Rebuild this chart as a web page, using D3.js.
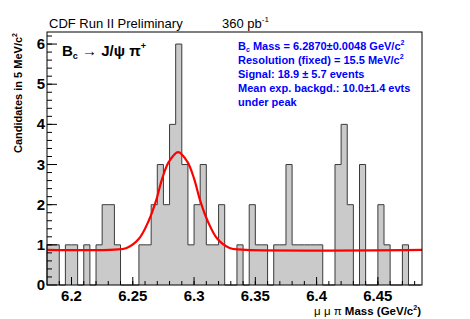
<!DOCTYPE html>
<html>
<head>
<meta charset="utf-8">
<script src="https://cdn.jsdelivr.net/npm/d3@7"></script>
<style>
  body { margin: 0; background: #fff; }
  text { font-family: "Liberation Sans", Helvetica, Arial, sans-serif; }
</style>
</head>
<body>
<div id="chart"></div>
<script>
// histogram: 5 MeV bins starting at 6.18 GeV
var binLow0 = 6.18, binWidth = 0.005;
var counts = [1,1,0,1,1,0,1,0,1,2, 2,1,0,0,0,1,1,2,3,2,
              4,6,3,1,2,3,1,1,2,0, 0,1,0,2,1,1,0,1,1,3,
              1,1,1,1,1,0,0,3,4,2, 0,3,0,0,2,1,0,0,1,0, 0];

// fit curve, points
var fitMass  = [6.18, 6.235, 6.245, 6.255, 6.263, 6.269, 6.274, 6.2795, 6.287,
                6.2945, 6.300, 6.305, 6.311, 6.319, 6.329, 6.339, 6.486];
var fitValue = [0.875, 0.88, 0.92, 1.15, 1.6, 2.1, 2.65, 3.07, 3.31,
                3.07, 2.65, 2.1, 1.6, 1.15, 0.92, 0.88, 0.875];

var xTicks = [6.2, 6.25, 6.3, 6.35, 6.4, 6.45];
var yTicks = [0, 1, 2, 3, 4, 5, 6];

var fitLines = ["Mass = 6.2870\u00b10.0048 GeV/c", "Resolution (fixed) = 15.5 MeV/c",
                "Signal: 18.9 \u00b1 5.7 events", "Mean exp. backgd.: 10.0\u00b11.4 evts", "under peak"];

var W = 470, H = 319;
var frame = {left: 47, right: 422, top: 32, bottom: 285};

var svg = d3.select("#chart").append("svg")
    .attr("width", W).attr("height", H);

var x = d3.scaleLinear().domain([6.18, 6.486]).range([frame.left, frame.right]);
var y = d3.scaleLinear().domain([0, 6.3]).range([frame.bottom, frame.top]);

// histogram step path
var pts = [[binLow0, 0]];
counts.forEach(function(c, i) {
  var lo = binLow0 + i * binWidth;
  pts.push([lo, c]);
  pts.push([lo + binWidth, c]);
});
pts.push([binLow0 + counts.length * binWidth, 0]);
var line = d3.line()
    .x(function(d) { return x(Math.min(d[0], 6.486)); })
    .y(function(d) { return y(d[1]); });

svg.append("path")
    .attr("d", line(pts))
    .attr("fill", "#cacaca")
    .attr("stroke", "#3a3a3a")
    .attr("stroke-width", 1);

// fit
svg.append("path")
    .datum(d3.zip(fitMass, fitValue))
    .attr("d", d3.line().x(function(d) { return x(d[0]); }).y(function(d) { return y(d[1]); })
          .curve(d3.curveCatmullRom))
    .attr("fill", "none")
    .attr("stroke", "#ff0000")
    .attr("stroke-width", 2.2);

// frame
svg.append("rect")
    .attr("x", frame.left).attr("y", frame.top)
    .attr("width", frame.right - frame.left).attr("height", frame.bottom - frame.top)
    .attr("fill", "none").attr("stroke", "#000").attr("stroke-width", 1);

// x ticks (inward)
var xMinor = d3.range(6.19, 6.486, 0.01);
var g = svg.append("g").attr("stroke", "#000").attr("stroke-width", 1);
xMinor.forEach(function(v) {
  g.append("line").attr("x1", x(v)).attr("x2", x(v))
    .attr("y1", frame.bottom).attr("y2", frame.bottom - 4);
});
xTicks.forEach(function(v) {
  g.append("line").attr("x1", x(v)).attr("x2", x(v))
    .attr("y1", frame.bottom).attr("y2", frame.bottom - 8);
});
var yMinor = d3.range(0.2, 6.3, 0.2);
yMinor.forEach(function(v) {
  g.append("line").attr("x1", frame.left).attr("x2", frame.left + 5)
    .attr("y1", y(v)).attr("y2", y(v));
});
yTicks.forEach(function(v) {
  g.append("line").attr("x1", frame.left).attr("x2", frame.left + 10)
    .attr("y1", y(v)).attr("y2", y(v));
});

svg.selectAll(".xl").data(xTicks).enter().append("text")
    .attr("x", function(d) { return x(d); })
    .attr("y", 301)
    .attr("text-anchor", "middle")
    .style("font-size", "15px").style("font-weight", "bold")
    .text(function(d) { return d; });

svg.selectAll(".yl").data(yTicks).enter().append("text")
    .attr("x", 45)
    .attr("y", function(d) { return y(d) + 5; })
    .attr("text-anchor", "end")
    .style("font-size", "15px").style("font-weight", "bold")
    .text(function(d) { return d; });

// axis titles
var xt = svg.append("text")
    .attr("x", 421).attr("y", 315)
    .attr("text-anchor", "end")
    .style("font-size", "11.5px");
xt.append("tspan").text("\u03bc \u03bc \u03c0 ");
xt.append("tspan").style("font-weight", "bold").text("Mass (GeV/c");
xt.append("tspan").style("font-weight", "bold").style("font-size", "7px").attr("dy", -5).text("2");
xt.append("tspan").style("font-weight", "bold").attr("dy", 5).text(")");

var yt = svg.append("text")
    .attr("transform", "translate(22,33) rotate(-90)")
    .attr("text-anchor", "end")
    .style("font-size", "11px").style("font-weight", "bold");
yt.append("tspan").text("Candidates in 5 MeV/c");
yt.append("tspan").style("font-size", "7px").attr("dy", -5).text("2");

// header
svg.append("text").attr("x", 49).attr("y", 28)
    .style("font-size", "13px").text("CDF Run II Preliminary");
var lum = svg.append("text").attr("x", 222).attr("y", 28).style("font-size", "13px");
lum.append("tspan").text("360 pb");
lum.append("tspan").style("font-size", "8px").attr("dy", -6).text("-1");

// decay label
var dl = svg.append("text").attr("x", 62).attr("y", 56)
    .style("font-size", "15px").style("font-weight", "bold");
dl.append("tspan").text("B");
dl.append("tspan").style("font-size", "9px").attr("dy", 3).text("c");
dl.append("tspan").attr("dy", -3).text(" \u2192 J/\u03c8 \u03c0");
dl.append("tspan").style("font-size", "9px").attr("dy", -7).text("+");

// fit results
var blue = svg.append("g").style("fill", "#0000ff")
    .style("font-size", "11px").style("font-weight", "bold");
fitLines.forEach(function(s, i) {
  var t = blue.append("text").attr("x", 238).attr("y", 49.5 + i * 14);
  if (i === 0) {
    t.append("tspan").text("B");
    t.append("tspan").style("font-size", "7px").attr("dy", 2).text("c");
    t.append("tspan").attr("dy", -2).text(" " + s);
  } else {
    t.append("tspan").text(s);
  }
  if (i < 2) t.append("tspan").style("font-size", "7px").attr("dy", -5).text("2");
});
</script>
</body>
</html>
